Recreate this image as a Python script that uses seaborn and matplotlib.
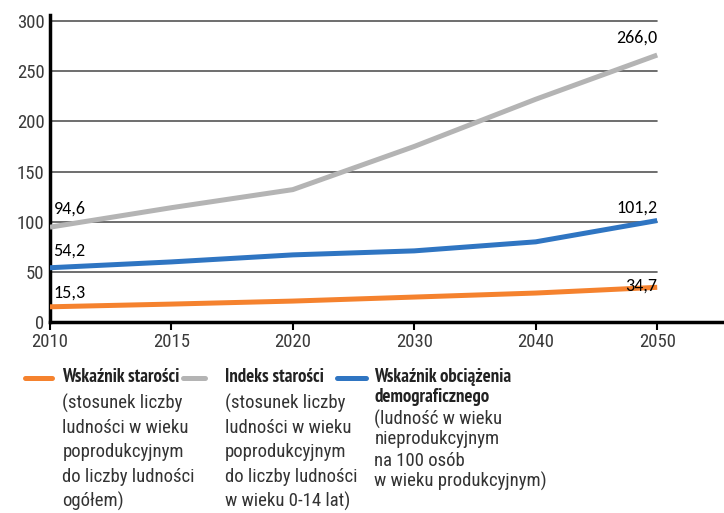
import numpy as np
import pandas as pd
import seaborn as sns
import matplotlib.pyplot as plt
from matplotlib.lines import Line2D

years = ['2010', '2015', '2020', '2030', '2040', '2050']
wskaznik_starosci = [15.3, 18.0, 21.0, 25.0, 29.0, 34.7]
indeks_starosci = [94.6, 114.0, 132.0, 175.0, 222.0, 266.0]
wskaznik_obciazenia = [54.2, 60.0, 67.0, 71.0, 80.0, 101.2]

series_names = ['Wskaźnik starości', 'Indeks starości', 'Wskaźnik obciążenia demograficznego']
colors = ['#F5822E', '#B4B4B4', '#2F75C2']

# long table for seaborn
rows = []
for name, vals in zip(series_names, [wskaznik_starosci, indeks_starosci, wskaznik_obciazenia]):
    for i, (yr, v) in enumerate(zip(years, vals)):
        rows.append({'pos': i, 'rok': yr, 'wartosc': v, 'seria': name})
df = pd.DataFrame(rows)

sns.set_style('white')
plt.rcParams['font.family'] = ['Roboto Condensed', 'DejaVu Sans']

fig = plt.figure(figsize=(7.24, 5.13), dpi=100)
ax = fig.add_axes([0.069, 0.372, 0.931, 0.599])

sns.lineplot(data=df, x='pos', y='wartosc', hue='seria', palette=dict(zip(series_names, colors)),
             linewidth=3.6, legend=False, ax=ax, zorder=3, solid_capstyle='butt')

ax.set_xlim(0, 5.55)
ax.set_ylim(0, 306)
ax.set_yticks(range(0, 301, 50))
ax.set_xticks(range(len(years)))
ax.set_xticklabels(years)
ax.set_xlabel('')
ax.set_ylabel('')

# horizontal grid lines stop at last category
for yv in range(50, 301, 50):
    ax.plot([0, len(years) - 1], [yv, yv], color='#555555', lw=1.2, zorder=1)

for s in ['top', 'right']:
    ax.spines[s].set_visible(False)
ax.spines['left'].set_color('black')
ax.spines['left'].set_linewidth(2.5)
ax.spines['bottom'].set_color('black')
ax.spines['bottom'].set_linewidth(2.5)
ax.tick_params(axis='x', direction='out', length=6, width=1.5, color='black',
               labelsize=13.5, labelcolor='#3a3a3a', pad=2, bottom=True)
ax.tick_params(axis='y', length=0, labelsize=13.5, labelcolor='#3a3a3a', pad=4)

# data labels
lab_font = dict(fontsize=13, color='black', family=['Carlito', 'DejaVu Sans'])
for vals, dy in zip([wskaznik_starosci, indeks_starosci, wskaznik_obciazenia], [6, 10, 9]):
    ax.text(0.03, vals[0] + dy, f'{vals[0]:.1f}'.replace('.', ','), ha='left', va='bottom', **lab_font)
for vals, dy in zip([wskaznik_starosci, indeks_starosci, wskaznik_obciazenia], [-6, 9, 5]):
    ax.text(len(years) - 1, vals[-1] + dy, f'{vals[-1]:.1f}'.replace('.', ','), ha='right', va='bottom', **lab_font)

# custom legend below the chart (pixel rows from the top)
leg_items = [
    (0.035, 0.072, 0.086, ['Wskaźnik starości'],
     ['(stosunek liczby', 'ludności w wieku', 'poprodukcyjnym', 'do liczby ludności', 'ogółem)'],
     [403, 428, 452, 477, 501]),
    (0.253, 0.283, 0.311, ['Indeks starości'],
     ['(stosunek liczby', 'ludności w wieku', 'poprodukcyjnym', 'do liczby ludności', 'w wieku 0-14 lat)'],
     [403, 428, 452, 477, 501]),
    (0.466, 0.505, 0.517, ['Wskaźnik obciążenia', 'demograficznego'],
     ['(ludność w wieku', 'nieprodukcyjnym', 'na 100 osób', 'w wieku produkcyjnym)'],
     [419, 439, 461, 481]),
]
H = 513.0
head_font = ['PT Sans Narrow', 'DejaVu Sans']
for (x0, x1, xt, bold, normal, rows_y), col in zip(leg_items, colors):
    y0 = 1 - 378 / H
    fig.add_artist(Line2D([x0, x1], [y0, y0], color=col, lw=3.6, solid_capstyle='round',
                          transform=fig.transFigure))
    for k, line in enumerate(bold):
        fig.text(xt, 1 - (377 + 20 * k) / H, line, fontsize=13.5, fontweight='bold', family=head_font,
                 color='#222222', va='center', ha='left')
    for line, yy in zip(normal, rows_y):
        fig.text(xt, 1 - yy / H, line, fontsize=13.5, color='#333333', va='center', ha='left')

fig.savefig('out.png', dpi=100)
